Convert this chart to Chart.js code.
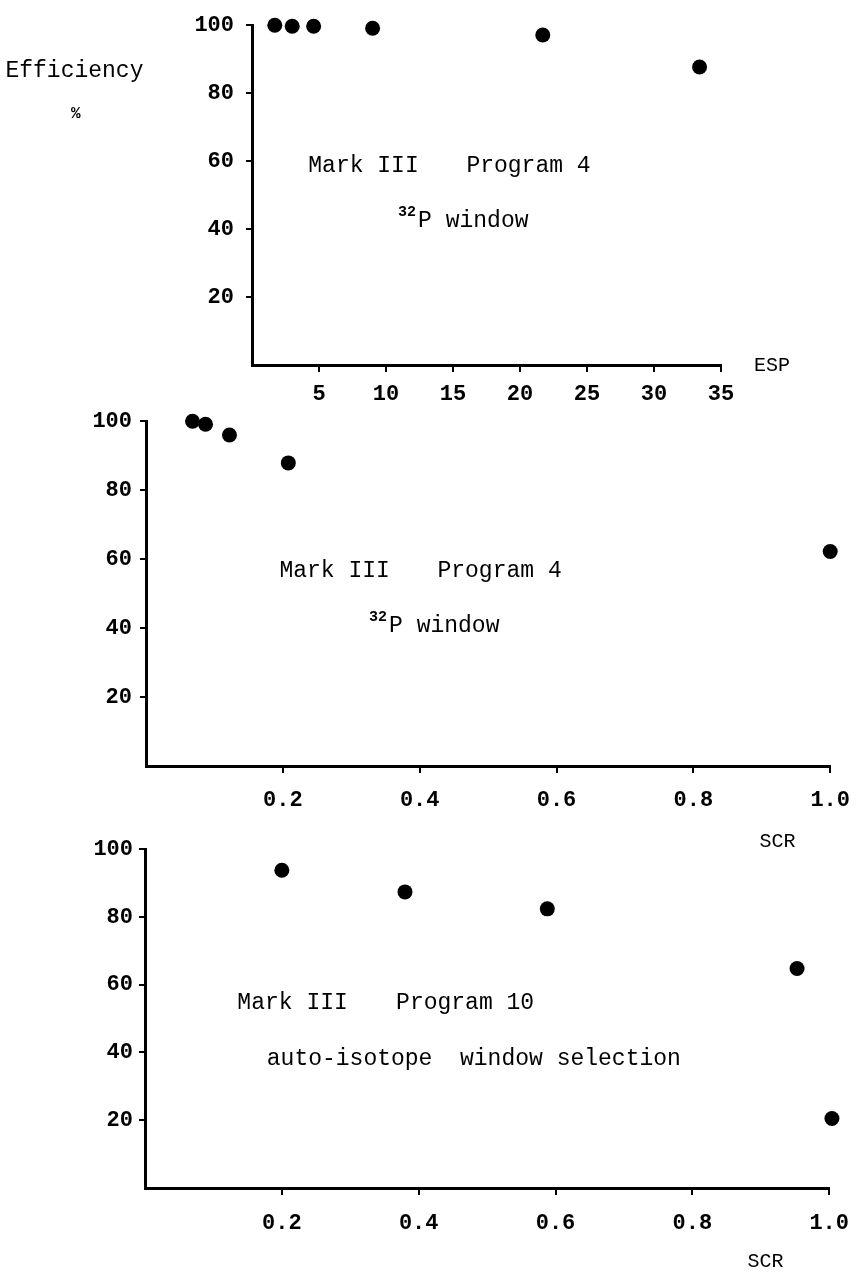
<!DOCTYPE html>
<html>
<head>
<meta charset="utf-8">
<script src="https://cdn.jsdelivr.net/npm/chart.js@4.4.1/dist/chart.umd.min.js"></script>
<style>
  body { margin: 0; background: #fff; width: 864px; height: 1274px; position: relative; overflow: hidden; }
  canvas { position: absolute; left: 0; }
</style>
</head>
<body>
<canvas id="esp" width="864" height="410" style="top:0px"></canvas>
<canvas id="scr4" width="864" height="460" style="top:400px"></canvas>
<canvas id="scr10" width="864" height="444" style="top:830px"></canvas>
<script>
// efficiency (%) vs ESP, Mark III program 4, 32P window
const espValues = [1.7, 3.0, 4.6, 9.0, 21.7, 33.4]
const espEfficiency = [100, 99.7, 99.7, 99.1, 97.1, 87.7]

// efficiency (%) vs SCR, Mark III program 4, 32P window
const scrProg4 = [0.068, 0.087, 0.122, 0.208, 1.0]
const effProg4 = [100, 99.1, 96.0, 87.9, 62.2]

// efficiency (%) vs SCR, Mark III program 10, auto-isotope window selection
const scrProg10 = [0.20, 0.38, 0.588, 0.953, 1.004]
const effProg10 = [93.8, 87.4, 82.4, 64.8, 20.5]

const effTicks = [20, 40, 60, 80, 100]
const espTicks = [5, 10, 15, 20, 25, 30, 35]
const scrTicks = [0.2, 0.4, 0.6, 0.8, 1.0]

const FONT = '"Liberation Mono", "Courier New", monospace'

function notesPlugin(items) {
  return {
    id: 'notes',
    afterDraw(chart) {
      const ctx = chart.ctx
      const { x, y } = chart.scales
      ctx.save()
      ctx.fillStyle = '#000'
      ctx.textBaseline = 'middle'
      items.forEach((n) => {
        let px = x.getPixelForValue(n.x)
        const py = y.getPixelForValue(n.y)
        ctx.textAlign = n.align || 'left'
        if (n.sup) {
          ctx.font = 'bold 15px ' + FONT
          ctx.fillText(n.sup, px, py - 9)
          px += ctx.measureText(n.sup).width + 2
        }
        ctx.font = (n.bold ? 'bold ' : '') + (n.size || 23) + 'px ' + FONT
        ctx.fillText(n.text, px, py)
      })
      ctx.restore()
    }
  }
}

function makePanel(id, xs, ys, xMax, xTicks, xFmt, pad, notes) {
  const points = xs.map((v, i) => ({ x: v, y: ys[i] }))
  const tickStyle = {
    color: '#000',
    font: { family: FONT, size: 22, weight: 'bold' },
  }
  const gridStyle = {
    drawOnChartArea: false,
    drawTicks: true,
    tickLength: 7,
    color: '#000',
    lineWidth: 2,
  }
  return new Chart(document.getElementById(id), {
    type: 'scatter',
    data: {
      datasets: [{
        data: points,
        pointRadius: 7.5,
        pointHoverRadius: 7.5,
        backgroundColor: '#000',
        borderColor: '#000',
        borderWidth: 0,
        clip: false,
      }],
    },
    options: {
      responsive: false,
      animation: false,
      events: [],
      layout: { autoPadding: false, padding: pad },
      plugins: { legend: { display: false }, tooltip: { enabled: false } },
      scales: {
        x: {
          type: 'linear',
          min: 0,
          max: xMax,
          afterBuildTicks: (s) => { s.ticks = xTicks.map((v) => ({ value: v })) },
          afterFit: (s) => { s.height = 45 },
          border: { color: '#000', width: 3 },
          grid: gridStyle,
          ticks: Object.assign({ padding: pad.xLabelPad, maxRotation: 0, autoSkip: false, callback: xFmt }, tickStyle),
        },
        y: {
          type: 'linear',
          min: 0,
          max: 100,
          afterBuildTicks: (s) => { s.ticks = effTicks.map((v) => ({ value: v })) },
          afterFit: (s) => { s.width = 80 },
          border: { color: '#000', width: 3 },
          grid: Object.assign({}, gridStyle, { tickLength: 6 }),
          ticks: Object.assign({ padding: pad.yLabelPad, autoSkip: false }, tickStyle),
        },
      },
    },
    plugins: [notesPlugin(notes)],
  })
}

makePanel('esp', espValues, espEfficiency, 35, espTicks, (v) => String(v),
  { top: 15, bottom: 0, left: 172, right: 143, yLabelPad: 12, xLabelPad: 9 },
  [
    { x: -18.4, y: 86.6, text: 'Efficiency', size: 23 },
    { x: -13.5, y: 74, text: '%', size: 16, bold: true },
    { x: 38.8, y: -0.3, text: 'ESP', size: 20, align: 'center' },
    { x: 4.2, y: 58.6, text: 'Mark III' },
    { x: 16.0, y: 58.6, text: 'Program 4' },
    { x: 10.9, y: 42.3, sup: '32', text: 'P window' },
  ])

makePanel('scr4', scrProg4, effProg4, 1.0, scrTicks, (v) => v.toFixed(1),
  { top: 19, bottom: 49, left: 66, right: 30, yLabelPad: 8, xLabelPad: 14 },
  [
    { x: 0.195, y: 56.5, text: 'Mark III' },
    { x: 0.426, y: 56.5, text: 'Program 4' },
    { x: 0.326, y: 40.6, sup: '32', text: 'P window' },
    { x: 0.923, y: -21.9, text: 'SCR', size: 20, align: 'center' },
  ])

makePanel('scr10', scrProg10, effProg10, 1.0, scrTicks, (v) => v.toFixed(1),
  { top: 17, bottom: 41, left: 65, right: 32, yLabelPad: 6, xLabelPad: 15 },
  [
    { x: 0.135, y: 54.5, text: 'Mark III' },
    { x: 0.367, y: 54.5, text: 'Program 10' },
    { x: 0.178, y: 38.1, text: 'auto-isotope  window selection' },
    { x: 0.907, y: -21.7, text: 'SCR', size: 20, align: 'center' },
  ])
</script>
</body>
</html>
